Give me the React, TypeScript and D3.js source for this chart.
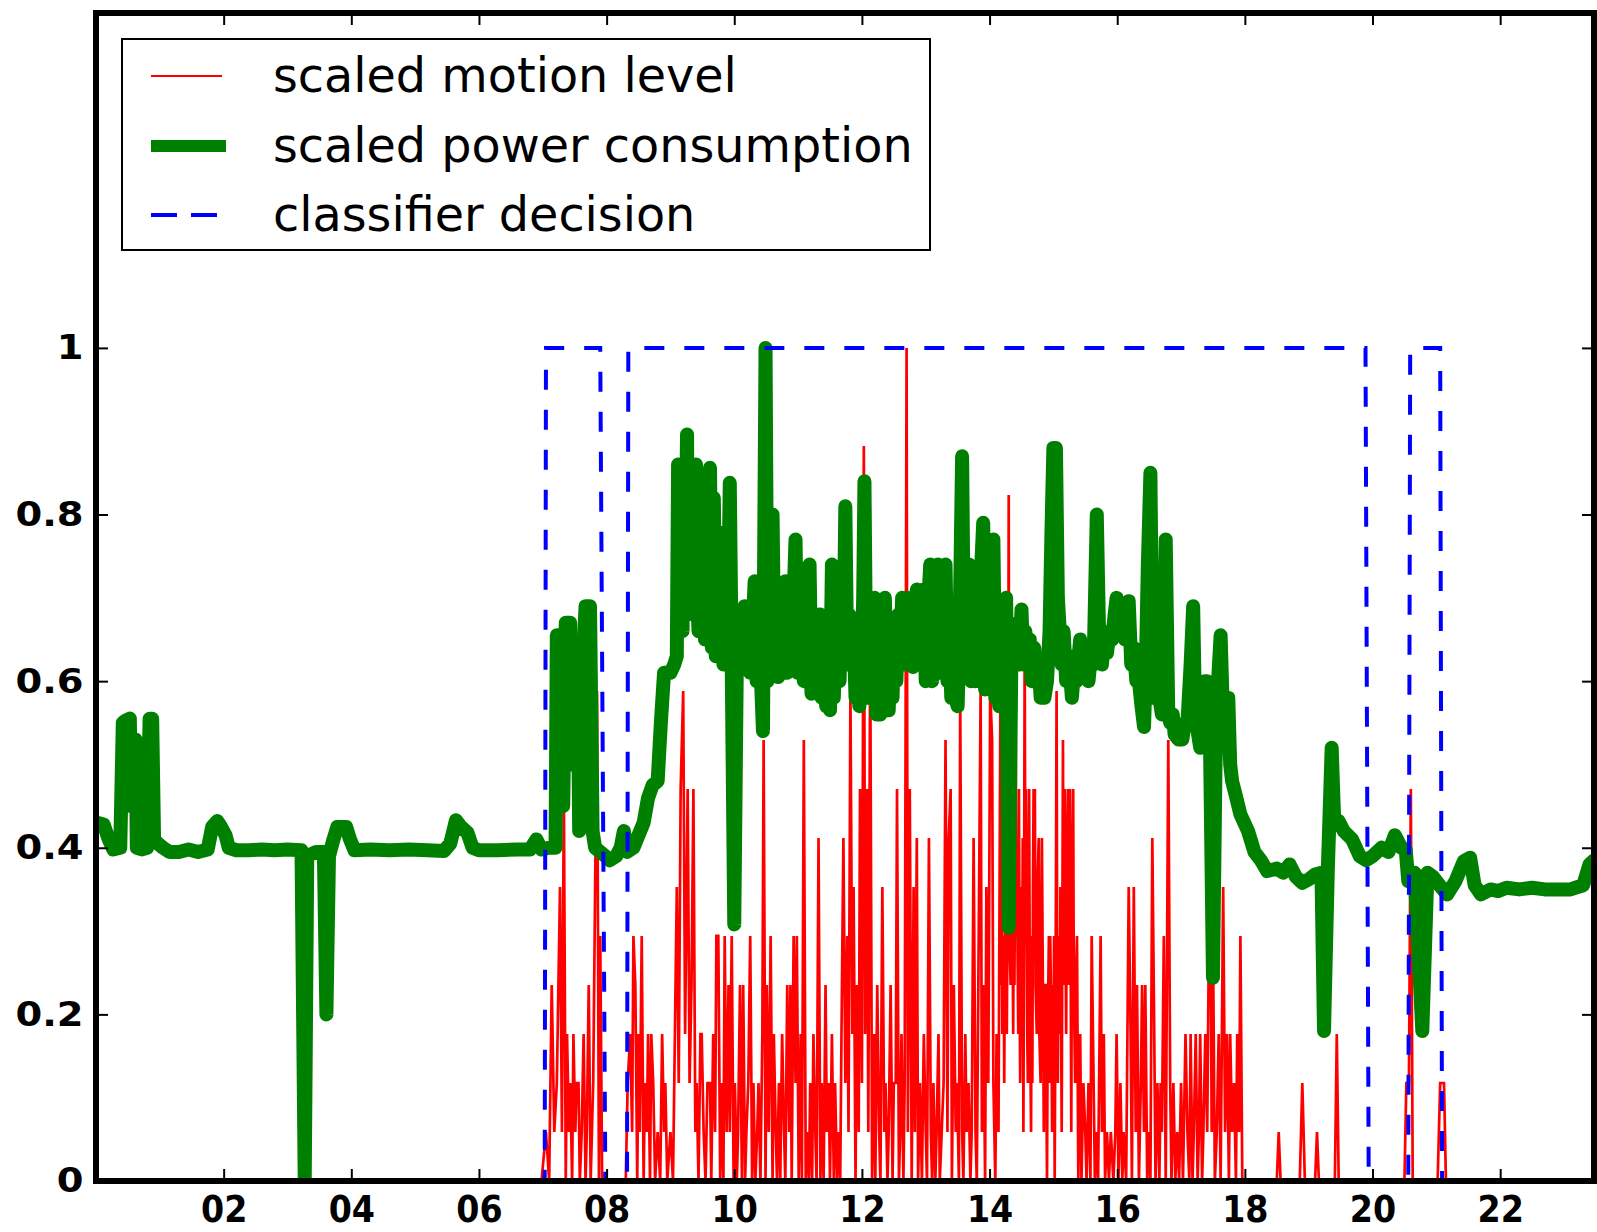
import React, { useEffect, useRef } from 'react';
import * as d3 from 'd3';

// hours of the day on the x axis, scaled values on the y axis
const hourTicks = [2, 4, 6, 8, 10, 12, 14, 16, 18, 20, 22];
const valueTicks = [0, 0.2, 0.4, 0.6, 0.8, 1];
const seriesNames = ['scaled motion level', 'scaled power consumption', 'classifier decision'];
const seriesColors = ['#ff0000', '#008000', '#0000ff'];

// motion sensor counts per sample, scaled by the max count
const motionMax = 17;
const motion: [number, number][] = [
  [0, 0], [6.98, 0], [7.05, 1], [7.1, 0], [7.14, 4], [7.18, 1], [7.22, 2], [7.27, 6], [7.3, 1], [7.33, 8],
  [7.36, 0], [7.38, 3], [7.41, 1], [7.43, 2], [7.46, 0], [7.48, 3], [7.51, 1], [7.53, 2], [7.56, 2], [7.58, 0],
  [7.61, 1], [7.64, 3], [7.67, 0], [7.69, 1], [7.72, 4], [7.75, 0], [7.79, 2], [7.82, 6], [7.85, 10], [7.88, 0],
  [7.9, 5], [7.93, 0], [8.3, 0], [8.33, 2], [8.37, 3], [8.4, 1], [8.42, 5], [8.45, 4], [8.48, 0], [8.5, 3],
  [8.52, 1], [8.55, 5], [8.58, 0], [8.6, 2], [8.63, 1], [8.65, 3], [8.68, 0], [8.7, 3], [8.73, 2], [8.76, 0],
  [8.8, 1], [8.84, 0], [8.87, 3], [8.9, 1], [8.92, 2], [8.95, 0], [9.0, 1], [9.04, 0], [9.07, 3], [9.1, 6],
  [9.13, 2], [9.16, 8], [9.2, 10], [9.23, 3], [9.27, 8], [9.3, 2], [9.33, 4], [9.36, 8], [9.39, 1], [9.41, 2],
  [9.44, 0], [9.47, 3], [9.49, 3], [9.52, 1], [9.55, 0], [9.58, 2], [9.62, 2], [9.64, 0], [9.67, 3], [9.7, 1],
  [9.72, 5], [9.75, 5], [9.78, 0], [9.8, 2], [9.83, 0], [9.85, 5], [9.88, 1], [9.91, 4], [9.93, 1], [9.96, 5],
  [9.99, 0], [10.01, 2], [10.04, 0], [10.06, 1], [10.09, 4], [10.12, 0], [10.14, 4], [10.17, 0], [10.19, 1], [10.22, 2],
  [10.25, 5], [10.28, 0], [10.3, 2], [10.33, 0], [10.36, 1], [10.38, 2], [10.41, 0], [10.44, 3], [10.46, 9], [10.49, 0],
  [10.51, 4], [10.54, 1], [10.57, 5], [10.6, 0], [10.62, 3], [10.65, 1], [10.67, 0], [10.7, 2], [10.72, 0], [10.75, 3],
  [10.78, 1], [10.8, 0], [10.83, 4], [10.86, 1], [10.88, 4], [10.9, 0], [10.93, 5], [10.96, 2], [10.98, 5], [11.01, 0],
  [11.04, 3], [11.06, 0], [11.09, 9], [11.12, 0], [11.14, 1], [11.17, 0], [11.19, 2], [11.22, 0], [11.24, 3], [11.27, 1],
  [11.29, 0], [11.32, 7], [11.35, 0], [11.37, 2], [11.4, 0], [11.43, 4], [11.45, 1], [11.48, 2], [11.5, 0], [11.53, 3],
  [11.56, 0], [11.58, 2], [11.61, 0], [11.63, 1], [11.66, 0], [11.68, 3], [11.71, 7], [11.74, 2], [11.77, 5], [11.79, 1],
  [11.82, 10], [11.85, 3], [11.87, 6], [11.9, 0], [11.92, 4], [11.95, 1], [11.97, 8], [12.0, 2], [12.03, 15], [12.05, 3],
  [12.08, 8], [12.1, 1], [12.13, 11], [12.16, 0], [12.19, 3], [12.21, 0], [12.24, 4], [12.27, 1], [12.29, 0], [12.32, 6],
  [12.35, 1], [12.37, 2], [12.4, 0], [12.42, 1], [12.45, 4], [12.48, 0], [12.5, 2], [12.53, 2], [12.55, 8], [12.58, 0],
  [12.6, 1], [12.62, 3], [12.65, 0], [12.67, 2], [12.7, 17], [12.72, 1], [12.75, 8], [12.78, 0], [12.81, 6], [12.83, 1],
  [12.86, 7], [12.88, 0], [12.91, 2], [12.94, 0], [12.97, 3], [13.0, 1], [13.02, 0], [13.05, 7], [13.08, 1], [13.1, 0],
  [13.12, 2], [13.15, 0], [13.17, 1], [13.2, 3], [13.22, 0], [13.25, 1], [13.28, 2], [13.31, 9], [13.34, 1], [13.36, 7],
  [13.39, 8], [13.41, 0], [13.44, 4], [13.47, 1], [13.49, 2], [13.52, 0], [13.54, 10], [13.57, 1], [13.59, 0], [13.62, 3],
  [13.64, 1], [13.67, 2], [13.7, 0], [13.72, 1], [13.75, 7], [13.78, 1], [13.8, 0], [13.83, 5], [13.86, 10], [13.88, 1],
  [13.9, 4], [13.93, 0], [13.95, 6], [13.98, 2], [14.01, 10], [14.04, 9], [14.06, 2], [14.09, 0], [14.11, 3], [14.14, 1],
  [14.17, 10], [14.18, 4], [14.19, 6], [14.2, 3], [14.22, 5], [14.23, 2], [14.25, 8], [14.26, 5], [14.27, 3], [14.29, 7],
  [14.3, 14], [14.31, 5], [14.33, 4], [14.34, 7], [14.35, 8], [14.37, 3], [14.38, 6], [14.39, 4], [14.41, 9], [14.42, 5],
  [14.43, 6], [14.45, 3], [14.46, 8], [14.47, 4], [14.48, 2], [14.5, 6], [14.51, 4], [14.52, 7], [14.53, 1], [14.54, 5],
  [14.55, 11], [14.56, 6], [14.57, 8], [14.59, 3], [14.6, 2], [14.61, 6], [14.62, 8], [14.63, 4], [14.65, 1], [14.66, 5],
  [14.67, 2], [14.68, 6], [14.69, 8], [14.7, 5], [14.71, 8], [14.72, 4], [14.74, 3], [14.75, 6], [14.77, 7], [14.78, 3],
  [14.8, 2], [14.81, 5], [14.82, 7], [14.84, 3], [14.85, 1], [14.86, 4], [14.88, 4], [14.89, 2], [14.9, 0], [14.91, 3],
  [14.93, 5], [14.94, 2], [14.95, 5], [14.97, 3], [14.98, 1], [14.99, 4], [15.0, 2], [15.01, 5], [15.02, 0], [15.04, 6],
  [15.05, 10], [15.06, 4], [15.07, 2], [15.08, 5], [15.1, 3], [15.11, 6], [15.13, 1], [15.14, 5], [15.15, 9], [15.16, 4],
  [15.18, 8], [15.19, 5], [15.2, 3], [15.21, 6], [15.23, 8], [15.24, 4], [15.26, 8], [15.27, 5], [15.28, 1], [15.29, 5],
  [15.31, 8], [15.32, 4], [15.34, 2], [15.35, 4], [15.37, 5], [15.39, 0], [15.42, 3],
  [15.44, 0], [15.47, 2], [15.5, 1], [15.52, 0], [15.55, 2], [15.58, 0], [15.6, 5], [15.62, 3], [15.65, 0], [15.68, 1],
  [15.7, 0], [15.74, 5], [15.76, 1], [15.79, 3], [15.81, 0], [15.84, 1], [15.87, 0], [15.9, 1], [15.94, 0], [15.97, 1],
  [15.99, 3], [16.02, 0], [16.05, 2], [16.08, 0], [16.1, 1], [16.14, 0], [16.18, 6], [16.21, 3], [16.23, 0], [16.26, 6],
  [16.29, 1], [16.31, 4], [16.34, 0], [16.37, 2], [16.39, 4], [16.42, 1], [16.44, 4], [16.47, 0], [16.5, 1], [16.52, 0],
  [16.55, 7], [16.58, 3], [16.6, 0], [16.63, 2], [16.66, 0], [16.68, 2], [16.7, 1], [16.73, 5], [16.76, 0], [16.8, 9],
  [16.83, 2], [16.85, 0], [16.88, 2], [16.91, 0], [16.94, 1], [16.97, 0], [17.0, 2], [17.03, 0], [17.07, 3], [17.1, 1],
  [17.13, 0], [17.15, 3], [17.18, 0], [17.2, 1], [17.23, 3], [17.26, 0], [17.28, 1], [17.3, 3], [17.33, 0], [17.35, 1],
  [17.38, 3], [17.41, 1], [17.43, 4], [17.46, 6], [17.48, 1], [17.5, 5], [17.53, 0], [17.56, 1], [17.59, 3], [17.62, 0],
  [17.66, 6], [17.69, 1], [17.72, 3], [17.75, 0], [17.77, 3], [17.8, 1], [17.83, 2], [17.86, 0], [17.88, 3], [17.91, 1],
  [17.93, 5], [17.96, 0], [18.5, 0], [18.53, 1], [18.56, 0], [18.86, 0], [18.9, 2], [18.94, 0], [19.1, 0], [19.13, 1],
  [19.16, 0], [19.41, 0], [19.44, 3], [19.47, 0], [20.5, 0], [20.53, 2], [20.57, 2], [20.6, 8], [20.63, 0], [21.02, 0],
  [21.06, 2], [21.12, 2], [21.15, 0], [23.47, 0],
];

// scaled power consumption
const power: [number, number][] = [
  [0.02, 0.43], [0.12, 0.428], [0.2, 0.41], [0.27, 0.398], [0.38, 0.4], [0.42, 0.55], [0.47, 0.553], [0.53, 0.555],
  [0.55, 0.45], [0.57, 0.53], [0.62, 0.53], [0.64, 0.4], [0.72, 0.398], [0.8, 0.4], [0.84, 0.555], [0.88, 0.555],
  [0.91, 0.41], [0.97, 0.405], [1.05, 0.4], [1.15, 0.395], [1.3, 0.395], [1.45, 0.398], [1.6, 0.395], [1.75, 0.398],
  [1.82, 0.425], [1.9, 0.432], [1.96, 0.425], [2.03, 0.415], [2.08, 0.4], [2.2, 0.397], [2.4, 0.397], [2.6, 0.398],
  [2.8, 0.397], [3.0, 0.398], [3.22, 0.397], [3.27, 0.0], [3.31, 0.39], [3.45, 0.395], [3.57, 0.395], [3.61, 0.2],
  [3.65, 0.39], [3.72, 0.41], [3.78, 0.425], [3.92, 0.425], [3.98, 0.41], [4.05, 0.397], [4.3, 0.398], [4.6, 0.397],
  [4.9, 0.398], [5.2, 0.397], [5.45, 0.396], [5.55, 0.405], [5.64, 0.433], [5.72, 0.425], [5.82, 0.418], [5.9, 0.4],
  [6.0, 0.397], [6.3, 0.397], [6.6, 0.398], [6.8, 0.398], [6.9, 0.41], [6.98, 0.398], [7.1, 0.4], [7.2, 0.4],
  [7.22, 0.655], [7.3, 0.655], [7.32, 0.45], [7.36, 0.67], [7.43, 0.67], [7.45, 0.5], [7.5, 0.6], [7.55, 0.6],
  [7.57, 0.42], [7.62, 0.6], [7.67, 0.69], [7.74, 0.69], [7.78, 0.42], [7.82, 0.4], [7.9, 0.395], [7.98, 0.39],
  [8.05, 0.385], [8.15, 0.39], [8.22, 0.4], [8.27, 0.42], [8.32, 0.395], [8.42, 0.4], [8.5, 0.415], [8.58, 0.43],
  [8.65, 0.46], [8.72, 0.475], [8.8, 0.48], [8.85, 0.55], [8.9, 0.61], [9.0, 0.61], [9.06, 0.62], [9.1, 0.63],
  [9.12, 0.86], [9.15, 0.7], [9.17, 0.86], [9.19, 0.66], [9.21, 0.86], [9.23, 0.7], [9.26, 0.896], [9.28, 0.68],
  [9.3, 0.86], [9.33, 0.7], [9.35, 0.86], [9.37, 0.68], [9.4, 0.86], [9.42, 0.7], [9.44, 0.66], [9.46, 0.8],
  [9.49, 0.67], [9.52, 0.78], [9.54, 0.65], [9.56, 0.74], [9.58, 0.66], [9.62, 0.856], [9.65, 0.64], [9.68, 0.82],
  [9.71, 0.63], [9.74, 0.78], [9.77, 0.63], [9.8, 0.72], [9.83, 0.62], [9.86, 0.68], [9.89, 0.62], [9.93, 0.838],
  [9.96, 0.62], [10.0, 0.308], [10.04, 0.62], [10.07, 0.66], [10.1, 0.62], [10.13, 0.64], [10.16, 0.69], [10.19, 0.615],
  [10.22, 0.66], [10.25, 0.61], [10.28, 0.65], [10.32, 0.72], [10.35, 0.6], [10.38, 0.64], [10.41, 0.62], [10.45, 0.54],
  [10.49, 1.0], [10.52, 0.6], [10.55, 0.66], [10.58, 0.62], [10.6, 0.8], [10.63, 0.61], [10.66, 0.66], [10.69, 0.605],
  [10.72, 0.64], [10.75, 0.62], [10.78, 0.68], [10.8, 0.72], [10.83, 0.61], [10.86, 0.66], [10.9, 0.64], [10.93, 0.7],
  [10.96, 0.77], [10.99, 0.61], [11.02, 0.66], [11.06, 0.64], [11.09, 0.6], [11.12, 0.66], [11.15, 0.62], [11.18, 0.74],
  [11.21, 0.585], [11.24, 0.64], [11.27, 0.6], [11.3, 0.66], [11.34, 0.68], [11.37, 0.58], [11.4, 0.62], [11.44, 0.57],
  [11.47, 0.6], [11.5, 0.565], [11.53, 0.74], [11.56, 0.58], [11.59, 0.66], [11.62, 0.64], [11.65, 0.6], [11.68, 0.7],
  [11.71, 0.62], [11.74, 0.81], [11.77, 0.62], [11.8, 0.68], [11.84, 0.63], [11.87, 0.66], [11.9, 0.58], [11.93, 0.62],
  [11.96, 0.57], [11.99, 0.6], [12.02, 0.7], [12.04, 0.84], [12.07, 0.58], [12.1, 0.64], [12.13, 0.58], [12.16, 0.66],
  [12.2, 0.7], [12.23, 0.56], [12.26, 0.66], [12.29, 0.56], [12.32, 0.64], [12.36, 0.7], [12.39, 0.58], [12.42, 0.565],
  [12.45, 0.64], [12.48, 0.58], [12.51, 0.66], [12.54, 0.6], [12.57, 0.68], [12.6, 0.63], [12.63, 0.7], [12.66, 0.62],
  [12.7, 0.7], [12.73, 0.63], [12.76, 0.68], [12.8, 0.617], [12.83, 0.68], [12.86, 0.71], [12.89, 0.62], [12.92, 0.7],
  [12.95, 0.64], [12.97, 0.71], [13.0, 0.6], [13.03, 0.68], [13.07, 0.74], [13.1, 0.6], [13.13, 0.7], [13.16, 0.64],
  [13.19, 0.74], [13.22, 0.61], [13.25, 0.7], [13.28, 0.64], [13.31, 0.74], [13.34, 0.6], [13.37, 0.66], [13.4, 0.58],
  [13.43, 0.64], [13.46, 0.58], [13.5, 0.57], [13.53, 0.66], [13.57, 0.87], [13.6, 0.62], [13.63, 0.7], [13.66, 0.66],
  [13.68, 0.74], [13.71, 0.6], [13.74, 0.66], [13.77, 0.6], [13.8, 0.68], [13.83, 0.6], [13.86, 0.72], [13.9, 0.79],
  [13.93, 0.59], [13.96, 0.66], [13.99, 0.6], [14.02, 0.68], [14.06, 0.77], [14.09, 0.58], [14.12, 0.64], [14.15, 0.57],
  [14.19, 0.62], [14.22, 0.66], [14.26, 0.7], [14.3, 0.304], [14.34, 0.62], [14.37, 0.66], [14.4, 0.63], [14.44, 0.67],
  [14.47, 0.62], [14.5, 0.686], [14.53, 0.62], [14.56, 0.66], [14.6, 0.62], [14.63, 0.65], [14.66, 0.6], [14.7, 0.64],
  [14.73, 0.6], [14.77, 0.62], [14.8, 0.58], [14.83, 0.62], [14.86, 0.58], [14.9, 0.6], [14.94, 0.66], [14.97, 0.78],
  [15.0, 0.88], [15.04, 0.88], [15.07, 0.7], [15.1, 0.66], [15.13, 0.62], [15.16, 0.66], [15.2, 0.6], [15.24, 0.63],
  [15.29, 0.58], [15.33, 0.62], [15.36, 0.6], [15.42, 0.65], [15.46, 0.62], [15.5, 0.63], [15.55, 0.6], [15.6, 0.64],
  [15.63, 0.62], [15.68, 0.8], [15.72, 0.64], [15.76, 0.62], [15.8, 0.65], [15.84, 0.634], [15.88, 0.66], [15.92, 0.65],
  [15.96, 0.68], [15.99, 0.7], [16.03, 0.66], [16.07, 0.68], [16.12, 0.65], [16.15, 0.68], [16.18, 0.696], [16.22, 0.62],
  [16.26, 0.64], [16.3, 0.6], [16.34, 0.6], [16.38, 0.57], [16.42, 0.545], [16.45, 0.62], [16.48, 0.74], [16.52, 0.85],
  [16.55, 0.62], [16.58, 0.58], [16.62, 0.6], [16.66, 0.58], [16.7, 0.56], [16.73, 0.62], [16.76, 0.77], [16.8, 0.56],
  [16.83, 0.55], [16.87, 0.56], [16.9, 0.536], [16.96, 0.53], [17.02, 0.53], [17.06, 0.55], [17.1, 0.55], [17.15, 0.62],
  [17.19, 0.69], [17.22, 0.56], [17.26, 0.54], [17.3, 0.52], [17.33, 0.55], [17.37, 0.6], [17.41, 0.6], [17.45, 0.55],
  [17.5, 0.244], [17.54, 0.5], [17.58, 0.6], [17.62, 0.655], [17.66, 0.55], [17.7, 0.56], [17.74, 0.58], [17.77, 0.5],
  [17.8, 0.48], [17.85, 0.465], [17.93, 0.44], [18.05, 0.42], [18.15, 0.395], [18.25, 0.385], [18.35, 0.372], [18.5, 0.375],
  [18.6, 0.37], [18.7, 0.38], [18.8, 0.365], [18.9, 0.358], [19.0, 0.362], [19.1, 0.368], [19.2, 0.37], [19.24, 0.18],
  [19.3, 0.375], [19.36, 0.52], [19.4, 0.43], [19.47, 0.432], [19.55, 0.42], [19.68, 0.41], [19.8, 0.39], [19.9, 0.385],
  [20.0, 0.39], [20.14, 0.4], [20.25, 0.395], [20.35, 0.415], [20.45, 0.4], [20.52, 0.398], [20.56, 0.36], [20.66, 0.37],
  [20.78, 0.18], [20.86, 0.37], [20.95, 0.365], [21.05, 0.355], [21.17, 0.344], [21.3, 0.36], [21.43, 0.384], [21.53, 0.388],
  [21.6, 0.355], [21.7, 0.344], [21.85, 0.35], [21.97, 0.348], [22.1, 0.352], [22.3, 0.35], [22.5, 0.352], [22.7, 0.35],
  [22.9, 0.35], [23.1, 0.35], [23.3, 0.355], [23.4, 0.38], [23.47, 0.385],
];

// classifier output (0 = absent, 1 = present)
const decision: [number, number][] = [
  [0, 0], [7.03, 0], [7.05, 1], [7.9, 1], [7.98, 0], [8.32, 0], [8.34, 1], [19.89, 1], [19.94, 0],
  [20.56, 0], [20.59, 1], [21.06, 1], [21.09, 0], [23.47, 0],
];

export default function App() {
  const ref = useRef<SVGSVGElement>(null);

  useEffect(() => {
    const svg = d3.select(ref.current);
    svg.selectAll('*').remove();
    const left = 96, right = 1594, top = 13, bottom = 1181;
    const font = '"DejaVu Sans", sans-serif';

    const x = d3.scaleLinear().domain([0, 23.47]).range([left, right]);
    const y = d3.scaleLinear().domain([0, 1.402]).range([bottom, top]);

    svg.append('defs').append('clipPath').attr('id', 'plot-clip')
      .append('rect').attr('x', left).attr('y', top).attr('width', right - left).attr('height', bottom - top);

    const plot = svg.append('g').attr('clip-path', 'url(#plot-clip)');

    const line = d3.line<[number, number]>().x(d => x(d[0])).y(d => y(d[1]));
    const motionLine = d3.line<[number, number]>().x(d => x(d[0])).y(d => y(d[1] / motionMax));

    plot.append('path').datum(motion)
      .attr('d', motionLine).attr('fill', 'none')
      .attr('stroke', seriesColors[0]).attr('stroke-width', 2.7);
    plot.append('path').datum(power)
      .attr('d', line).attr('fill', 'none')
      .attr('stroke', seriesColors[1]).attr('stroke-width', 14)
      .attr('stroke-linejoin', 'round').attr('stroke-linecap', 'round');
    plot.append('path').datum(decision)
      .attr('d', line).attr('fill', 'none')
      .attr('stroke', seriesColors[2]).attr('stroke-width', 4)
      .attr('stroke-dasharray', '20,20');

    // ticks point inwards on all four sides
    const bottomAxis = svg.append('g').attr('transform', 'translate(0,' + bottom + ')')
      .call(d3.axisBottom(x).tickValues(hourTicks).tickSizeInner(-12).tickSizeOuter(0).tickPadding(15)
        .tickFormat(d => d3.format('02d')(d as number)));
    bottomAxis.selectAll('text')
      .attr('font-family', font).attr('font-weight', 'bold').attr('font-size', 37)
      .attr('fill', '#000').attr('transform', 'scale(0.9,1)');

    const leftAxis = svg.append('g').attr('transform', 'translate(' + left + ',0)')
      .call(d3.axisLeft(y).tickValues(valueTicks).tickSizeInner(-12).tickSizeOuter(0).tickPadding(11)
        .tickFormat(d => d3.format('~g')(d as number)));
    leftAxis.selectAll('text')
      .attr('font-family', font).attr('font-weight', 'bold').attr('font-size', 34)
      .attr('fill', '#000').attr('transform', 'scale(1.13,1)');

    svg.append('g').attr('transform', 'translate(0,' + top + ')')
      .call(d3.axisTop(x).tickValues(hourTicks).tickSizeInner(-12).tickSizeOuter(0).tickFormat(() => ''));
    svg.append('g').attr('transform', 'translate(' + right + ',0)')
      .call(d3.axisRight(y).tickValues(valueTicks).tickSizeInner(-12).tickSizeOuter(0).tickFormat(() => ''));

    svg.selectAll('.domain').remove();
    svg.selectAll('.tick line').attr('stroke', '#000').attr('stroke-width', 2);

    svg.append('rect')
      .attr('x', left).attr('y', top).attr('width', right - left).attr('height', bottom - top)
      .attr('fill', 'none').attr('stroke', '#000').attr('stroke-width', 6);

    // legend
    const legend = svg.append('g');
    legend.append('rect')
      .attr('x', 122).attr('y', 39).attr('width', 808).attr('height', 211)
      .attr('fill', '#fff').attr('stroke', '#000').attr('stroke-width', 2);
    const rowY = [76, 146, 215];
    const sampleWidth = [2, 12, 4];
    seriesNames.forEach((name, i) => {
      legend.append('line')
        .attr('x1', 151).attr('x2', i === 1 ? 226 : 222)
        .attr('y1', rowY[i]).attr('y2', rowY[i])
        .attr('stroke', seriesColors[i]).attr('stroke-width', sampleWidth[i])
        .attr('stroke-dasharray', i === 2 ? '26,14' : null);
      legend.append('text')
        .attr('x', 273).attr('y', rowY[i] + 16)
        .attr('font-family', font).attr('font-size', 47.7).attr('fill', '#000')
        .text(name);
    });
  }, []);

  return (
    <svg ref={ref} width={1597} height={1232}
      style={{ position: 'absolute', left: 0, top: 0, background: '#fff' }} />
  );
}
